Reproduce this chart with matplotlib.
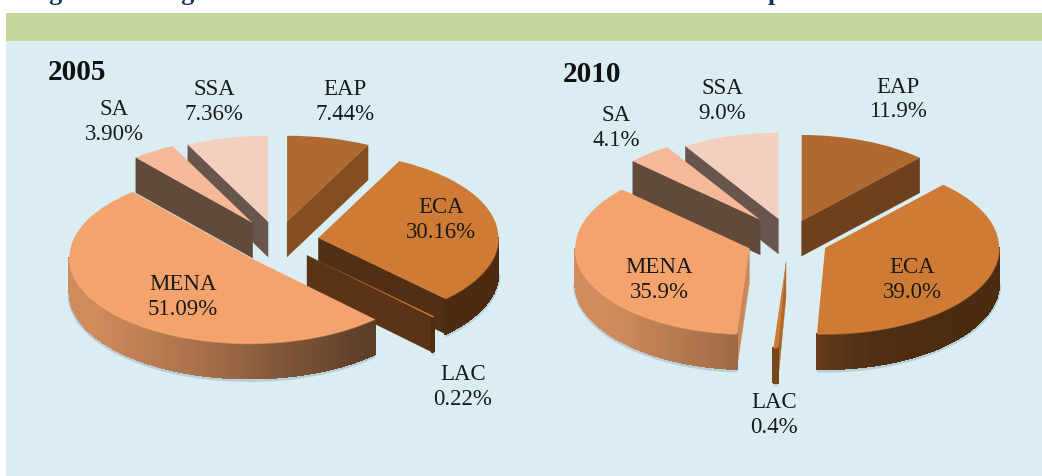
import numpy as np
import matplotlib
matplotlib.use('Agg')
import matplotlib.pyplot as plt
from matplotlib.collections import PolyCollection
from matplotlib.colors import to_rgb
from matplotlib.patches import Polygon, Rectangle

# shares in percent, clockwise from 12 o'clock
regions = ['EAP', 'ECA', 'LAC', 'MENA', 'SA', 'SSA']
share_2005 = [7.44, 30.16, 0.22, 51.09, 3.90, 7.36]
share_2010 = [11.9, 39.0, 0.4, 35.9, 4.1, 9.0]
labels_2005 = ['7.44%', '30.16%', '0.22%', '51.09%', '3.90%', '7.36%']
labels_2010 = ['11.9%', '39.0%', '0.4%', '35.9%', '4.1%', '9.0%']

W, H = 1042, 476
DEPTH = 35.0
FONT = 'Liberation Serif'

tops = ['#B06A30', '#CF7B35', '#D07B30', '#F4A36C', '#F5B898', '#F5CFBD']
draw_order = [0, 5, 4, 1, 2, 3]


def shade(x):
    # outer wall gets darker from left to right
    return np.interp(x, [-1, -0.3, 0.05, 0.5, 1], [0.85, 0.65, 0.52, 0.38, 0.36])


def draw_pie(fig, box, values, explode, walls, nudge):
    cx, cy, rx, ry = box
    span = 2.2
    ax = fig.add_axes([(cx - span * rx) / W, 1 - (cy + span * ry) / H,
                       2 * span * rx / W, 2 * span * ry / H])
    wedges, _ = ax.pie(values, explode=explode, colors=tops, startangle=90,
                       counterclock=False, radius=1, normalize=True)
    ax.set_aspect('auto')
    ax.set_xlim(-span, span)
    ax.set_ylim(-span, span)
    ax.patch.set_alpha(0)
    d = DEPTH / ry

    for n, i in enumerate(draw_order):
        w = wedges[i]
        z = 10 + n * 5
        # small pixel corrections, the original has some perspective
        c = np.array(w.center) + [nudge[i][0] / rx, -nudge[i][1] / ry]
        w.set_center(tuple(c))
        base = np.array(to_rgb(tops[i]))

        # cut faces, only the ones facing the viewer
        t1, t2 = np.radians([w.theta1, w.theta2])
        mid = (t1 + t2) / 2
        inner = c + np.array([np.cos(mid), np.sin(mid)])
        for t in (t1, t2):
            rim = c + np.array([np.cos(t), np.sin(t)])
            e = rim - c
            side_in = e[0] * (inner - c)[1] - e[1] * (inner - c)[0]
            side_down = e[0] * -1
            if side_in * side_down < 0:
                ax.add_patch(Polygon([c, rim, rim - [0, d], c - [0, d]],
                                     closed=True, fc=walls[i], ec=walls[i],
                                     lw=0.3, zorder=z))

        # outer wall, lower half of the rim only
        ang = np.linspace(w.theta1, w.theta2, 240)
        ang = ang[np.sin(np.radians(ang)) < 0.0]
        if len(ang) > 1:
            xs = c[0] + np.cos(np.radians(ang))
            ys = c[1] + np.sin(np.radians(ang))
            # soft shadow under the wall
            ax.plot(xs, ys - d - 1.5 / ry, color='#6F8790', lw=3, alpha=0.3,
                    zorder=z - 1, solid_capstyle='butt')
            quads, cols = [], []
            for k in range(len(ang) - 1):
                quads.append([(xs[k], ys[k]), (xs[k + 1], ys[k + 1]),
                              (xs[k + 1], ys[k + 1] - d), (xs[k], ys[k] - d)])
                cols.append(base * shade((xs[k] + xs[k + 1]) / 2))
            ax.add_collection(PolyCollection(quads, facecolors=cols, edgecolors=cols,
                                             linewidths=0.8, antialiased=False,
                                             zorder=z + 1))
            # light bevel on the front edge
            ax.plot(xs, ys, color=np.minimum(base * 1.1, 1), lw=1.2, alpha=0.5,
                    zorder=z + 3, solid_capstyle='butt')
        w.set_zorder(z + 2)
    return ax


fig = plt.figure(figsize=(W / 100, H / 100), dpi=100, facecolor='white')
bg = fig.add_axes([0, 0, 1, 1])
bg.set_xlim(0, W)
bg.set_ylim(H, 0)
bg.axis('off')
bg.add_patch(Rectangle((6, 41), W - 6, H - 41, fc='#DAEDF3', ec='none'))
bg.add_patch(Rectangle((6, 13), W - 6, 28, fc='#C5D69B', ec='none'))
# only the descenders of the heading above survive the crop
for x, ch in ((55, 'g'), (187, 'g'), (775, 'p')):
    bg.text(x, 0, ch, fontsize=19, family=FONT, weight='bold', color='#17365D',
            ha='center', va='baseline')

no_nudge = [(0, 0)] * 6
nudge_2005 = list(no_nudge)
nudge_2005[3] = (-4, 6)
nudge_2010 = list(no_nudge)
nudge_2010[1] = (0, 3.5)
nudge_2010[3] = (0, 3.5)

draw_pie(fig, (277.5, 241, 180, 86), share_2005, [0.23, 0.23, 0.234, 0.18, 0.25, 0.23],
         ['#834F22', '#522E12', '#5B3418', '#C98A58', '#614A3A', '#68554B'], nudge_2005)
draw_pie(fig, (789, 237, 174, 86), share_2010, [0.2, 0.225, 0.29, 0.245, 0.26, 0.22],
         ['#6E401E', '#522E12', '#B0682A', '#C98A58', '#614A3A', '#68554B'], nudge_2010)

top = fig.add_axes([0, 0, 1, 1])
top.set_xlim(0, W)
top.set_ylim(H, 0)
top.axis('off')
top.patch.set_alpha(0)

label_xy_2005 = [(345, 102), (441, 220), (463, 387), (183, 297), (114, 122), (214, 102)]
label_xy_2010 = [(898, 99.5), (912, 280), (774, 415), (659, 280), (616, 128), (722, 101)]
for labs, xy in ((labels_2005, label_xy_2005), (labels_2010, label_xy_2010)):
    for name, lab, (x, y) in zip(regions, labs, xy):
        top.text(x, y, name + '\n' + lab, ha='center', va='center', family=FONT,
                 fontsize=16.5, color='#1A1A1A', linespacing=1.22)
top.text(48, 72, '2005', family=FONT, weight='bold', fontsize=21, va='center', color='#111111')
top.text(563, 74, '2010', family=FONT, weight='bold', fontsize=21, va='center', color='#111111')

fig.savefig('out.png', dpi=100)
